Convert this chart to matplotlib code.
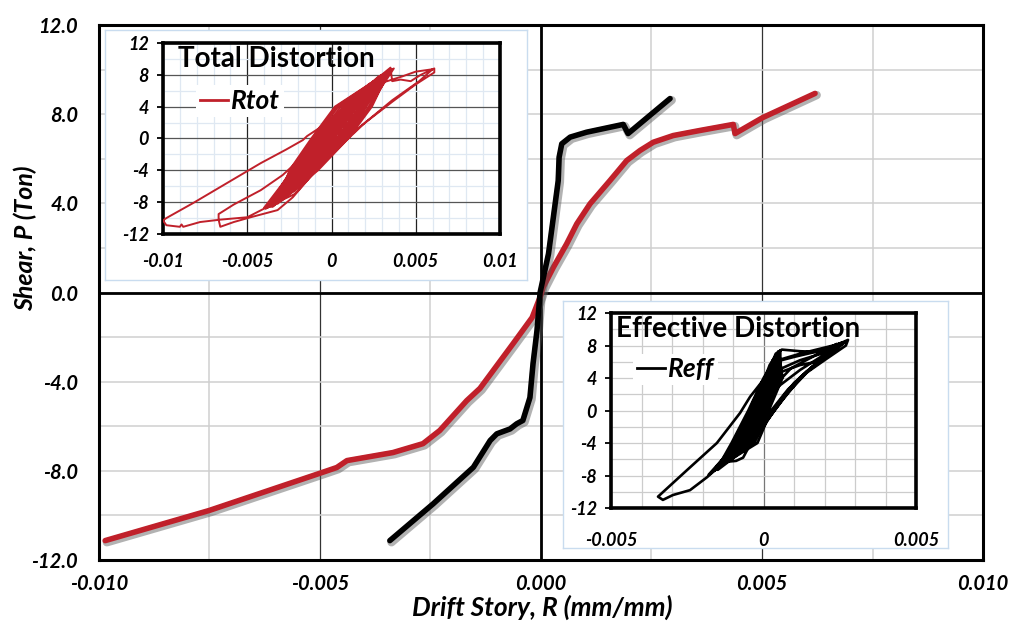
import numpy as np
import matplotlib
matplotlib.use("Agg")
import matplotlib.pyplot as plt
import matplotlib.patheffects as pe
from matplotlib.lines import Line2D

plt.rcParams['font.family'] = ['Lato', 'DejaVu Sans']

# ---- data (drift in 1/1000 mm/mm, shear in Ton) ----
# backbone curves of the main chart
rtot_env_x = [-9.86, -7.51, -5.02, -4.62, -4.39, -3.35, -2.67, -2.29, -1.68, -1.38, -0.63,
              -0.20, 0.0, 0.05, 0.28, 0.58, 0.81, 1.11, 1.56, 1.94, 2.24, 2.54, 2.99,
              3.60, 4.35, 4.39, 5.02, 6.20]
rtot_env_p = [-11.13, -9.78, -8.12, -7.85, -7.54, -7.18, -6.78, -6.19, -4.85, -4.30, -2.29,
              -1.12, -0.10, 0.24, 1.13, 2.18, 3.08, 3.98, 5.02, 5.92, 6.37, 6.74, 7.04,
              7.27, 7.54, 7.13, 7.85, 8.93]

reff_env_x = [-3.42, -2.44, -1.53, -1.15, -1.00, -0.70, -0.55, -0.41, -0.25, -0.18, -0.09,
              -0.02, 0.17, 0.28, 0.39, 0.41, 0.47, 0.66, 1.03, 1.86, 1.97, 2.92]
reff_env_p = [-11.13, -9.48, -7.84, -6.64, -6.34, -6.12, -5.89, -5.74, -4.71, -3.19, -1.70,
              0.0, 1.74, 3.38, 5.02, 6.07, 6.67, 6.97, 7.19, 7.54, 7.13, 8.70]

# full cyclic history, total distortion
rtot_x = [0.0, 0.3, 0.6, 0.3, 0.2, -0.3, -0.7, -0.4, -0.3, 0.2,
          1.1, 0.6, 0.4, -0.3, -1.2, -0.7, -0.5, 0.3,
          1.6, 0.9, 0.6, -0.6, -1.8, -1.1, -0.8, 0.4,
          2.1, 1.2, 0.8, -0.8, -2.4, -1.5, -1.0, 0.4, 1.3,
          2.6, 1.7, 1.0, -0.7, -2.9, -1.9, -1.2, 0.2, 1.6,
          3.1, 2.0, 1.1, -1.0, -3.4, -2.3, -1.3, 0.4, 2.0,
          3.5, 2.3, 1.2, -1.2, -3.8, -2.6, -1.4, 0.5, 2.4,
          3.5, 3.6, 4.1, 4.7, 5.3, 6.1,
          6.1, 5.0, 3.6, 1.7, 0.6, -1.0, -2.3, -3.2, -4.8, -5.8, -6.6, -6.7, -6.7,
          -5.8, -4.2, -2.9, -1.5, 0.0, 1.6, 3.0,
          4.2, 5.0, 6.0,
          5.2, 3.6, 2.0, 0.8, -0.8, -2.2, -3.8, -5.0, -6.6, -7.8, -8.8, -8.9, -9.0, -9.8, -10.0,
          -9.8, -8.2, -6.2, -4.2, -2.7, -1.7, -1.45, -0.3, 1.2, 2.6, 3.4,
          2.4, 1.3, -0.4, -2.0, -3.6,
          -2.8, -1.6, -0.2, 1.4, 2.8, 3.3,
          2.6, 1.5, 0.2, -1.5, -3.0, -3.9,
          -3.0, -1.9, -0.6, 1.0, 2.2, 2.9,
          2.0, 0.8, -0.9, -2.6, -3.3,
          -2.4, -1.1, 0.3, 1.8, 3.2,
          2.2, 1.0, -0.6, -2.2, -3.5,
          -2.5, -1.3, 0.0, 1.5, 2.7,
          3.5, 2.3, 0.9, -0.9, -3.5, -2.4, -1.1, 0.3,
          3.3, 1.8, 0.4, -1.3, -3.7, -2.0, -0.6, 0.8,
          3.6, 2.05, 0.65, -1.1, -3.9, -2.2, -0.85, 0.55,
          3.0, 1.55, 0.15, -1.45, -3.3, -1.8, -0.35, 1.05,
          3.4, 2.4, 1.0, -0.8, -3.2, -2.5, -1.2, 0.2,
          2.8, 1.3, -0.1, -1.65, -4.0, -2.3, -1.0, 0.4,
          3.7, 2.2, 0.8, -1.0, -3.4, -1.9, -0.5, 0.9,
          3.2, 1.7, 0.3, -1.35, -3.6, -2.1, -0.7, 0.7,
          3.5, 1.9, 0.5, -1.2, -3.0, -1.7, -0.2, 1.2,
          3.1, 1.45, 0.0, -1.55, -3.8, -2.4, -1.1, 0.3, 3.3]
rtot_p = [0.0, 1.2, 2.0, 0.8, 0.0, -1.2, -2.2, -1.0, 0.0, 1.5,
          3.6, 1.6, 0.0, -1.8, -3.8, -1.8, 0.0, 2.0,
          5.0, 2.6, 0.0, -2.8, -5.3, -2.8, 0.0, 2.8,
          6.2, 3.2, 0.2, -3.4, -6.6, -3.6, -0.5, 2.9, 4.8,
          7.2, 4.4, 0.8, -3.4, -7.5, -4.4, -0.8, 2.6, 5.4,
          8.0, 4.8, 0.6, -4.0, -8.2, -5.0, -1.2, 3.0, 6.4,
          8.6, 5.2, 0.8, -4.4, -8.7, -5.2, -1.0, 3.4, 7.0,
          8.9, 7.2, 7.4, 7.2, 8.0, 8.8,
          8.3, 6.8, 4.6, 1.5, -0.6, -4.2, -7.4, -9.0, -9.9, -10.5, -11.1, -10.2, -9.5,
          -8.3, -6.5, -4.6, -1.9, 1.0, 4.2, 7.0,
          7.8, 8.4, 8.7,
          7.2, 4.8, 2.0, -0.4, -3.8, -7.0, -8.6, -9.9, -10.2, -10.5, -11.1, -10.8, -11.1, -10.9, -10.3,
          -10.0, -8.1, -5.6, -3.1, -1.4, -0.2, 0.3, 1.9, 4.6, 7.2, 8.4,
          5.8, 1.5, -2.6, -6.2, -8.4,
          -6.0, -2.6, 1.4, 5.2, 7.8, 8.3,
          6.6, 2.8, -0.8, -5.0, -7.8, -8.8,
          -6.8, -3.6, 0.2, 4.2, 6.8, 7.7,
          5.0, 1.2, -3.6, -7.0, -8.0,
          -5.6, -2.2, 1.6, 5.4, 8.2,
          5.4, 1.8, -2.8, -6.6, -8.3,
          -5.8, -2.4, 1.0, 4.8, 7.4,
          8.5, 4.0, 0.0, -4.0, -8.6, -4.0, 0.0, 4.0,
          8.2, 4.0, 0.0, -4.0, -8.5, -4.0, 0.0, 4.0,
          8.7, 4.0, 0.0, -4.0, -8.8, -4.0, 0.0, 4.0,
          7.9, 4.0, 0.0, -4.0, -8.0, -4.0, 0.0, 4.0,
          8.4, 4.0, 0.0, -4.0, -8.2, -4.0, 0.0, 4.0,
          7.6, 4.0, 0.0, -4.0, -8.7, -4.0, 0.0, 4.0,
          8.8, 4.0, 0.0, -4.0, -8.4, -4.0, 0.0, 4.0,
          8.1, 4.0, 0.0, -4.0, -8.6, -4.0, 0.0, 4.0,
          8.6, 4.0, 0.0, -4.0, -7.9, -4.0, 0.0, 4.0,
          8.0, 4.0, 0.0, -4.0, -8.7, -4.0, 0.0, 4.0, 8.3]

# full cyclic history, effective distortion
reff_x = [0.0, 0.1, 0.2, 0.0, -0.1, -0.3, -0.5, -0.3, -0.2, 0.05,
          0.35, 0.1, -0.05, -0.4, -0.8, -0.5, -0.35, 0.05,
          0.3, 0.45, 0.3, 0.1, -0.4, -1.1, -0.8, -0.55, -0.1, 0.2,
          0.5, 0.35, 0.15, -0.5, -0.8, -1.3, -1.0, -0.6, -0.2, 0.2, 0.4,
          0.6, 1.2, 1.85, 2.3, 2.77,
          2.7, 2.0, 1.2, 0.64, 0.0, -0.6, -1.0, -1.5,
          -1.2, -0.7, -0.1, 0.5, 1.2, 2.0, 2.7,
          2.2, 1.4, 0.8, 0.2, -0.4, -0.98, -1.85, -2.41, -2.97, -3.3, -3.46,
          -2.5, -1.53, -0.77, -0.44, 0.0, 0.4, 1.0, 1.8, 2.6,
          2.0, 1.3, 0.6, 0.0, -0.7, -1.4,
          -1.0, -0.5, 0.1, 0.54, 1.2, 1.75, 2.5,
          1.8, 1.0, 0.3, -0.3, -0.67, -0.9, -1.2,
          -0.9, -0.4, 0.0, 0.25, 0.45,
          0.2, -0.1, -0.5, -1.0, -1.6,
          -1.1, -0.6, -0.2, 0.1, 0.3, 0.5,
          0.3, 0.0, -0.45, -0.9, -1.4,
          -1.0, -0.3, 0.3, 0.9, 1.6, 2.4,
          1.6, 0.8, 0.2, -0.5, -1.2,
          -1.0, -0.47, 0.03, 0.5, 0.62, 0.17, -0.3, -1.4,
          -0.83, -0.31, 0.18, 0.45, 0.47, 0.01, -0.47, -1.6,
          -0.92, -0.39, 0.1, 0.55, 0.55, 0.09, -0.38, -1.7,
          -0.74, -0.23, 0.25, 0.4, 0.4, -0.07, -0.56, -1.3,
          -0.96, -0.43, 0.07, 0.3, 1.2, 2.6, 1.6, 0.8, 0.25, -0.2, -1.5,
          -1.05, -0.5, 0.0, 0.5, 0.51, 0.05, -0.42, -1.8,
          -0.87, -0.35, 0.14, 0.6, 1.2, 1.9, 2.5, 1.5, 0.7, 0.1, -0.35, -1.5,
          -0.79, -0.27, 0.21, 0.45]
reff_p = [0.0, 1.2, 2.5, 0.5, -0.6, -1.6, -2.5, -1.0, 0.0, 1.5,
          4.5, 1.4, -0.5, -2.5, -4.2, -2.0, 0.0, 2.4,
          5.5, 6.8, 3.5, 0.2, -2.8, -5.8, -3.6, -0.8, 2.6, 5.6,
          7.3, 4.0, 0.5, -3.2, -5.0, -6.3, -4.2, -1.2, 2.2, 5.2, 7.0,
          7.5, 7.3, 7.2, 7.9, 8.7,
          8.0, 6.2, 4.1, 1.7, -2.0, -4.6, -5.6, -7.0,
          -5.6, -3.0, 0.2, 3.0, 5.0, 6.9, 8.5,
          7.0, 4.8, 2.4, -0.6, -3.6, -5.3, -8.2, -9.8, -10.4, -11.0, -10.6,
          -7.3, -4.0, -0.3, 1.7, 3.8, 6.0, 6.6, 7.3, 8.4,
          6.4, 4.4, 1.2, -1.8, -5.0, -6.8,
          -5.2, -2.2, 1.4, 4.7, 5.6, 6.0, 8.0,
          6.0, 3.4, 0.0, -3.2, -5.8, -6.2, -6.3,
          -4.4, -1.6, 1.8, 4.6, 7.0,
          3.6, 0.4, -3.0, -5.4, -7.4,
          -5.0, -2.0, 1.2, 4.0, 6.2, 7.2,
          3.8, 0.6, -2.8, -4.6, -6.6,
          -4.0, -0.6, 2.8, 5.2, 6.6, 8.2,
          5.4, 2.2, -0.8, -3.8, -6.0,
          -4.0, 0.0, 4.0, 7.3, 4.0, 0.0, -4.0, -6.8,
          -4.0, 0.0, 4.0, 7.0, 4.0, 0.0, -4.0, -7.2,
          -4.0, 0.0, 4.0, 7.4, 4.0, 0.0, -4.0, -7.6,
          -4.0, 0.0, 4.0, 6.6, 4.0, 0.0, -4.0, -6.4,
          -4.0, 0.0, 4.0, 6.0, 7.0, 8.3, 5.4, 2.6, 0.0, -4.0, -7.0,
          -4.0, 0.0, 4.0, 7.2, 4.0, 0.0, -4.0, -7.9,
          -4.0, 0.0, 4.0, 5.2, 6.2, 7.0, 8.2, 5.0, 2.0, -1.0, -4.0, -7.3,
          -4.0, 0.0, 4.0, 6.5]

main_xticks = [-0.010, -0.005, 0.000, 0.005, 0.010]
main_xlabels = ['-0.010', '-0.005', '0.000', '0.005', '0.010']
main_yticks = [12, 8, 4, 0, -4, -8, -12]
main_ylabels = ['12.0', '8.0', '4.0', '0.0', '-4.0', '-8.0', '-12.0']
tot_xticks = [-0.01, -0.005, 0, 0.005, 0.01]
tot_xlabels = ['-0.01', '-0.005', '0', '0.005', '0.01']
eff_xticks = [-0.005, 0, 0.005]
eff_xlabels = ['-0.005', '0', '0.005']
inset_yticks = [12, 8, 4, 0, -4, -8, -12]
inset_ylabels = ['12', '8', '4', '0', '-4', '-8', '-12']

RED = '#c0202a'
tick_font = dict(fontweight='bold', fontstyle='italic')

fig = plt.figure(figsize=(10.13, 6.31), dpi=100)

# ---------------- main chart ----------------
ax = fig.add_axes([0.0977, 0.1125, 0.8727, 0.8479])
ax.set_xlim(-0.010, 0.010)
ax.set_ylim(-12, 12)
ax.set_xticks(main_xticks)
ax.set_xticklabels(main_xlabels, fontsize=14.5, **tick_font)
ax.set_yticks(main_yticks)
ax.set_yticklabels(main_ylabels, fontsize=14.5, **tick_font)
ax.set_xticks([-0.0075, -0.0025, 0.0025, 0.0075], minor=True)
ax.set_yticks([-10, -6, -2, 2, 6, 10], minor=True)
ax.tick_params(which='both', length=0)
ax.tick_params(axis='y', pad=15)
ax.tick_params(axis='x', pad=10)
ax.grid(which='major', axis='x', color='#333333', lw=0.9)
ax.grid(which='minor', axis='x', color='#cfcfcf', lw=1.1)
ax.grid(which='both', axis='y', color='#cfcfcf', lw=1.1)
ax.set_axisbelow(True)
for s in ax.spines.values():
    s.set_linewidth(2.2)
ax.axhline(0, color='black', lw=2.0, zorder=2)
ax.axvline(0, color='black', lw=2.0, zorder=2)

shadow = [pe.SimpleLineShadow(offset=(1.2, -1.2), shadow_color='#555555', alpha=0.45,
                              linewidth=6.0), pe.Normal()]
ax.plot(np.array(rtot_env_x) * 1e-3, rtot_env_p, color=RED, lw=4.0,
        solid_capstyle='round', solid_joinstyle='round', path_effects=shadow, zorder=4)
ax.plot(np.array(reff_env_x) * 1e-3, reff_env_p, color='black', lw=4.0,
        solid_capstyle='round', solid_joinstyle='round', path_effects=shadow, zorder=5)

fig.text(0.535, 0.037, 'Drift Story, R (mm/mm)', ha='center', va='center',
         fontsize=19, **tick_font)
fig.text(0.025, 0.623, 'Shear, P (Ton)', rotation=90, ha='center', va='center',
         fontsize=18, **tick_font)


def inset(box, inner, xlim, xticks, xlabels, x_minor, gridcols, xpad):
    bg = fig.add_axes(box, zorder=5)
    bg.set_xticks([])
    bg.set_yticks([])
    bg.set_facecolor('white')
    for s in bg.spines.values():
        s.set_color('#c9dcef')
        s.set_linewidth(1.0)
    a = fig.add_axes(inner, zorder=6)
    a.set_xlim(*xlim)
    a.set_ylim(-12, 12)
    a.set_xticks(xticks)
    a.set_xticklabels(xlabels, fontsize=13, **tick_font)
    a.set_yticks(inset_yticks)
    a.set_yticklabels(inset_ylabels, fontsize=13, **tick_font)
    a.set_xticks(x_minor, minor=True)
    a.set_yticks([-10, -6, -2, 2, 6, 10], minor=True)
    a.tick_params(axis='x', which='both', length=0, pad=xpad)
    a.tick_params(axis='y', which='major', length=4, width=1.3, pad=6)
    a.tick_params(axis='y', which='minor', length=0)
    a.grid(which='minor', color=gridcols[0], lw=0.9)
    a.grid(which='major', axis='x', color=gridcols[1], lw=0.9)
    a.grid(which='major', axis='y', color=gridcols[2], lw=0.9)
    a.set_axisbelow(True)
    for s in a.spines.values():
        s.set_linewidth(2.6)
    return a


# ---------------- Total distortion inset ----------------
a1 = inset([0.1037, 0.5563, 0.4166, 0.3962], [0.1609, 0.6292, 0.3327, 0.3027],
           (-0.01, 0.01), tot_xticks, tot_xlabels,
           [v * 1e-3 for v in [-9, -8, -7, -6, -4, -3, -2, -1, 1, 2, 3, 4, 6, 7, 8, 9]],
           ('#dfe8f2', '#222222', '#555555'), 14)
a1.plot(np.array(rtot_x) * 1e-3, rtot_p, color=RED, lw=1.4, zorder=3)
a1.text(0.045, 0.915, 'Total Distortion', transform=a1.transAxes, fontsize=20,
        fontweight='bold', va='center', ha='left', zorder=7)
a1.legend(handles=[Line2D([], [], color=RED, lw=2)], labels=['Rtot'],
          loc='upper left', bbox_to_anchor=(0.06, 0.85), handlelength=1.05,
          handletextpad=0.12, borderpad=0.15, frameon=True, framealpha=1,
          edgecolor='none', fancybox=False,
          prop=dict(family='Lato', weight='bold', style='italic', size=19))

# ---------------- Effective distortion inset ----------------
a2 = inset([0.5558, 0.1315, 0.3801, 0.3914], [0.6032, 0.1949, 0.3011, 0.3090],
           (-0.005, 0.005), eff_xticks, eff_xlabels,
           [v * 1e-3 for v in [-4, -3, -2, -1, 1, 2, 3, 4]],
           ('#cccccc', '#777777', '#cccccc'), 17)
a2.plot(np.array(reff_x) * 1e-3, reff_p, color='black', lw=1.9, zorder=3)
a2.text(0.015, 0.92, 'Effective Distortion', transform=a2.transAxes, fontsize=20,
        fontweight='bold', va='center', ha='left', zorder=7)
a2.legend(handles=[Line2D([], [], color='black', lw=2)], labels=['Reff'],
          loc='upper left', bbox_to_anchor=(0.03, 0.86), handlelength=1.05,
          handletextpad=0.12, borderpad=0.15, frameon=True, framealpha=1,
          edgecolor='none', fancybox=False,
          prop=dict(family='Lato', weight='bold', style='italic', size=19))

fig.savefig('out.png', dpi=100)
